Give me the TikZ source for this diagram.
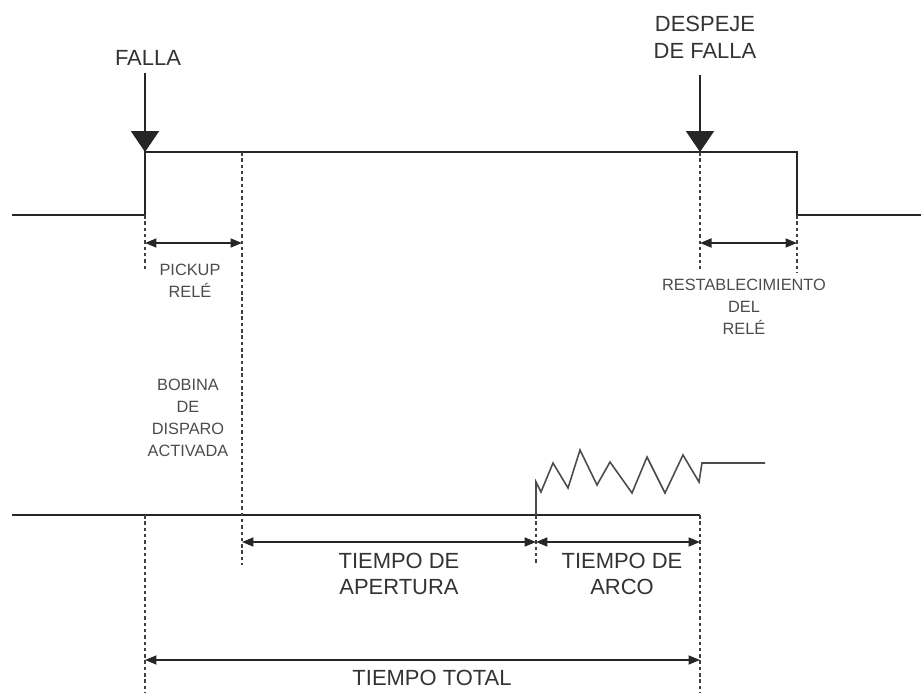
\documentclass[tikz,border=0pt]{standalone}
\usepackage{fontspec}
\setmainfont{Liberation Sans}
\usetikzlibrary{arrows.meta}

\begin{document}
\begin{tikzpicture}[x=0.02cm,y=-0.02cm,
    signal/.style={line width=1.2pt,black!85},
    guide/.style={line width=1.2pt,black!75,dash pattern=on 2pt off 1.6pt},
    evento/.style={line width=1.2pt,black!85,-{Triangle[width=5.6mm,length=4.2mm]}},
    span/.style={line width=1pt,black!85,{Triangle[width=1.8mm,length=2.3mm]}-{Triangle[width=1.8mm,length=2.3mm]}},
    small/.style={align=center,text=black!70,font=\fontsize{9.3}{12.6}\selectfont},
    big/.style={align=center,text=black!80,font=\fontsize{12.5}{15.2}\selectfont}]
  \useasboundingbox (0,0) rectangle (921,693);
  % Signal of the relay (top)
  \coordinate (izq) at (12,215);
  \coordinate (fallaB) at (145,215);
  \coordinate (falla) at (145,152);
  \coordinate (bobinaA) at (242,152);
  \coordinate (despeje) at (700,152);
  \coordinate (restA) at (797,152);
  \coordinate (restB) at (797,215);
  \coordinate (der) at (921,215);
  \draw[signal] (izq) -- (fallaB) -- (falla) -- (restA) -- (restB) -- (der);
  % Events
  \node[big] (lfalla) at (148,58) {FALLA};
  \node[big] (ldespeje) at (705,37) {DESPEJE\\DE FALLA};
  \coordinate (fallaTop) at (145,73);
  \coordinate (despejeTop) at (700,75);
  \draw[evento] (fallaTop) -- (falla);
  \draw[evento] (despejeTop) -- (despeje);
  % Signal of the breaker (bottom)
  \coordinate (izqB) at (12,515);
  \coordinate (totalA) at (145,515);
  \coordinate (bobinaB) at (242,515);
  \coordinate (arco) at (536,515);
  \coordinate (finB) at (700,515);
  \draw[signal] (izqB) -- (finB);
  \draw[line width=0.9pt,black!70] (arco) -- (536,482) -- (541,492) -- (553,463) -- (568,488)
    -- (580,450) -- (597,485) -- (610,462) -- (632,493) -- (647,457) -- (665,493)
    -- (683,455) -- (699,482) -- (702,463) -- (765,463);
  % Dotted guides
  \coordinate (g1) at (145,270);
  \coordinate (g2) at (242,565);
  \coordinate (g3) at (700,272);
  \coordinate (g4) at (797,272);
  \coordinate (g5) at (145,693);
  \coordinate (g6) at (536,565);
  \coordinate (g7) at (700,693);
  \draw[guide] (fallaB) -- (g1);
  \draw[guide] (bobinaA) -- (g2);
  \draw[guide] (despeje) -- (g3);
  \draw[guide] (restB) -- (g4);
  \draw[guide] (totalA) -- (g5);
  \draw[guide] (arco) -- (g6);
  \draw[guide] (finB) -- (g7);
  % Spans
  \coordinate (p1) at (145,243);
  \coordinate (p2) at (242,243);
  \coordinate (r1) at (700,243);
  \coordinate (r2) at (797,243);
  \coordinate (a1) at (242,542);
  \coordinate (a2) at (536,542);
  \coordinate (a3) at (700,542);
  \coordinate (t1) at (145,660);
  \coordinate (t2) at (700,660);
  \draw[span] (p1) -- (p2);
  \draw[span] (r1) -- (r2);
  \draw[span] (a1) -- (a2);
  \draw[span] (a2) -- (a3);
  \draw[span] (t1) -- (t2);
  % Labels
  \node[small] (lpickup) at (190,281) {PICKUP\\RELÉ};
  \node[small] (lrest) at (744,307) {RESTABLECIMIENTO\\DEL\\RELÉ};
  \node[small] (lbobina) at (188,418) {BOBINA\\DE\\DISPARO\\ACTIVADA};
  \node[big] (lapertura) at (399,574) {TIEMPO DE\\APERTURA};
  \node[big] (larco) at (622,574) {TIEMPO DE\\ARCO};
  \node[big] (ltotal) at (432,678) {TIEMPO TOTAL};
\end{tikzpicture}
\end{document}
